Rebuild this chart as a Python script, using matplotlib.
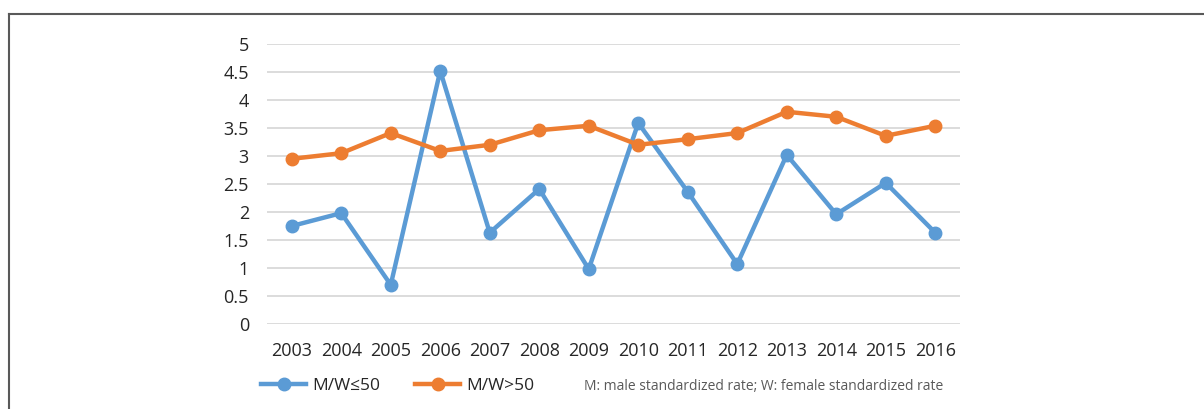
import matplotlib
matplotlib.use("Agg")
import matplotlib.pyplot as plt
from matplotlib.lines import Line2D

years = ["2003", "2004", "2005", "2006", "2007", "2008", "2009",
         "2010", "2011", "2012", "2013", "2014", "2015", "2016"]
low = [1.75, 1.98, 0.70, 4.52, 1.63, 2.41, 0.98, 3.59, 2.36, 1.07, 3.02, 1.96, 2.52, 1.63]
high = [2.95, 3.05, 3.41, 3.09, 3.20, 3.46, 3.54, 3.20, 3.30, 3.41, 3.79, 3.70, 3.36, 3.54]
yticks = [0, 0.5, 1, 1.5, 2, 2.5, 3, 3.5, 4, 4.5, 5]
ytick_labels = ["0", "0.5", "1", "1.5", "2", "2.5", "3", "3.5", "4", "4.5", "5"]
labels = ["M/W\u226450", "M/W>50"]
note = "M: male standardized rate; W: female standardized rate"

plt.rcParams['font.family'] = ['Open Sans', 'DejaVu Sans']

W, H = 1204, 409
fig = plt.figure(figsize=(W / 100, H / 100), dpi=100)
ax = fig.add_axes([267 / W, 1 - 324 / H, (960 - 267) / W, (324 - 44) / H])

blue = "#5B9BD5"
orange = "#ED7D31"
x = list(range(len(years)))
l1, = ax.plot(x, low, color=blue, lw=3.2, marker="o", ms=9, label=labels[0], zorder=3)
l2, = ax.plot(x, high, color=orange, lw=3.2, marker="o", ms=9, label=labels[1], zorder=3)

ax.set_xlim(-0.5, len(years) - 0.5)
ax.set_ylim(0, 5)
ax.set_yticks(yticks)
ax.set_yticklabels(ytick_labels)
ax.set_xticks(x)
ax.set_xticklabels(years)
ax.grid(axis="y", color="#D9D9D9", lw=1.3)
ax.set_axisbelow(True)
for s in ax.spines.values():
    s.set_visible(False)
ax.tick_params(axis="both", length=0, labelsize=13, colors="#262626")
ax.tick_params(axis="y", pad=13)
ax.tick_params(axis="x", pad=13)

fig.legend(handles=[l1, l2], labels=labels, loc="center left",
           bbox_to_anchor=(261 / W, 1 - 386 / H), ncol=2, frameon=False,
           fontsize=12.5, handlelength=2.6, handletextpad=0.35, columnspacing=2.0,
           borderpad=0, borderaxespad=0, labelcolor="#262626")
fig.text(584 / W, 1 - 386 / H, note, ha="left", va="center", fontsize=10, color="#595959")

# outer frame (top and left edges)
fig.add_artist(Line2D([8.5 / W, 8.5 / W], [0, 1 - 13.5 / H], transform=fig.transFigure,
                      color="#595959", lw=1.5))
fig.add_artist(Line2D([8.5 / W, 1], [1 - 13.5 / H, 1 - 13.5 / H], transform=fig.transFigure,
                      color="#595959", lw=1.5))

fig.savefig("out.png", dpi=100)
